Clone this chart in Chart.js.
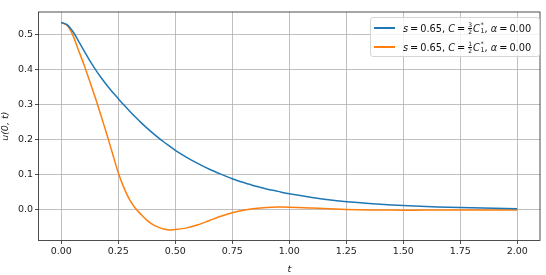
<!DOCTYPE html>
<html>
<head>
<meta charset="utf-8">
<script src="https://cdn.jsdelivr.net/npm/chart.js@4"></script>
<style>
  body { margin: 0; background: #fff; }
  #wrap { position: relative; width: 546px; height: 275px; }
  #legend {
    position: absolute; left: 370px; top: 17px; width: 170px; height: 40px;
    border: 1px solid #d5d5d5; border-radius: 3px; background: rgba(255,255,255,0.8);
    font-family: "DejaVu Sans", sans-serif; font-size: 9.8px; color: #111;
    box-sizing: border-box;
  }
  .row { position: absolute; left: 0; height: 16px; display: flex; align-items: center; white-space: nowrap; }
  .swatch { display: inline-block; width: 21px; height: 1.5px; margin-left: 3px; margin-right: 8px; }
  .frac { display: inline-flex; flex-direction: column; font-size: 6px; line-height: 6px; vertical-align: middle; margin: 0 1px; text-align: center; }
  .frac span:first-child { border-bottom: 0.6px solid #111; }
  .ss { display: inline-flex; flex-direction: column; font-size: 6.5px; line-height: 6px; vertical-align: middle; margin-left: 0.5px; }
</style>
</head>
<body>
<div id="wrap">
  <canvas id="grafico" width="546" height="275"></canvas>
  <div id="legend"></div>
</div>
<script>
// valores
const tValues = [0, 0.025, 0.05, 0.075, 0.1, 0.125, 0.15, 0.175, 0.2, 0.225, 0.25, 0.275, 0.3, 0.325, 0.35, 0.375, 0.4, 0.425, 0.45, 0.475, 0.5,
  0.55, 0.6, 0.65, 0.7, 0.75, 0.8, 0.85, 0.9, 0.95, 1.0, 1.1, 1.2, 1.3, 1.4, 1.5, 1.6, 1.7, 1.8, 1.9, 2.0];
const uTresMedios = [0.534, 0.528, 0.509, 0.482, 0.453, 0.4255, 0.400, 0.3767, 0.3553, 0.3355, 0.3171, 0.2988, 0.2814, 0.2648, 0.2489, 0.2339, 0.2197, 0.2063, 0.1937, 0.1818, 0.170,
  0.150, 0.132, 0.116, 0.102, 0.089, 0.078, 0.068, 0.060, 0.053, 0.046, 0.0355, 0.027, 0.021, 0.0162, 0.0125, 0.0098, 0.0078, 0.0060, 0.0047, 0.0037];
const uUnMedio = [0.534, 0.526, 0.499, 0.456, 0.413, 0.366, 0.318, 0.267, 0.215, 0.160, 0.106, 0.063, 0.029, 0.005, -0.013, -0.029, -0.041, -0.049, -0.054, -0.057, -0.056,
  -0.051, -0.042, -0.030, -0.018, -0.008, -0.001, 0.004, 0.007, 0.0082, 0.008, 0.0055, 0.0025, 0.0008, -0.0002, -0.0005, -0.0004, -0.0002, -0.0001, 0, 0];
const xTicks = [0, 0.25, 0.5, 0.75, 1.0, 1.25, 1.5, 1.75, 2.0];
const yTicks = [0, 0.1, 0.2, 0.3, 0.4, 0.5];
const etiquetas = [
  '<i>s</i>&thinsp;=&thinsp;0.65, <i>C</i>&thinsp;=&thinsp;<span class="frac"><span>3</span><span>2</span></span><i>C</i><span class="ss"><span>*</span><span>1</span></span>, <i>α</i>&thinsp;=&thinsp;0.00',
  '<i>s</i>&thinsp;=&thinsp;0.65, <i>C</i>&thinsp;=&thinsp;<span class="frac"><span>1</span><span>2</span></span><i>C</i><span class="ss"><span>*</span><span>1</span></span>, <i>α</i>&thinsp;=&thinsp;0.00'
];
const colores = ['#1f77b4', '#ff7f0e'];

const fuente = { family: 'DejaVu Sans', size: 9.5 };

// marco negro alrededor del area
const marco = {
  id: 'marco',
  afterDraw(chart) {
    const a = chart.chartArea, ctx = chart.ctx;
    ctx.save();
    ctx.strokeStyle = '#222';
    ctx.lineWidth = 0.8;
    ctx.strokeRect(a.left, a.top, a.right - a.left, a.bottom - a.top);
    ctx.restore();
  }
};

const series = [uTresMedios, uUnMedio];
new Chart(document.getElementById('grafico'), {
  type: 'line',
  data: {
    datasets: series.map((s, i) => ({
      label: 'serie' + i,
      data: tValues.map((t, j) => ({ x: t, y: s[j] })),
      borderColor: colores[i],
      borderWidth: 1.5,
      pointRadius: 0,
      tension: 0.3,
      fill: false
    }))
  },
  options: {
    responsive: false,
    animation: false,
    layout: { padding: { top: 12, right: 6, left: 0, bottom: 0 } },
    plugins: { legend: { display: false }, tooltip: { enabled: false } },
    scales: {
      x: {
        type: 'linear', min: -0.1, max: 2.1,
        afterBuildTicks: (sc) => { sc.ticks = xTicks.map(v => ({ value: v })); },
        afterFit: (sc) => { sc.height = 34.5; },
        grid: { color: '#b0b0b0', lineWidth: 0.8, tickColor: '#222', tickLength: 3.5 },
        border: { display: false },
        ticks: { font: fuente, color: '#222', padding: 2, maxRotation: 0, callback: v => v.toFixed(2) },
        title: { display: true, text: 't', font: { family: 'DejaVu Sans', size: 9.5, style: 'italic' }, color: '#222', padding: { top: 6, bottom: 0 } }
      },
      y: {
        type: 'linear', min: -0.087, max: 0.564,
        afterBuildTicks: (sc) => { sc.ticks = yTicks.map(v => ({ value: v })); },
        afterFit: (sc) => { sc.width = 38.5; },
        grid: { color: '#b0b0b0', lineWidth: 0.8, tickColor: '#222', tickLength: 3.5 },
        border: { display: false },
        ticks: { font: fuente, color: '#222', padding: 2, callback: v => v.toFixed(1) },
        title: { display: true, text: 'u(0, t)', font: { family: 'DejaVu Sans', size: 9.5, style: 'italic' }, color: '#222', padding: { top: 0, bottom: 0 } }
      }
    }
  },
  plugins: [marco]
});

// leyenda
const leyenda = document.getElementById('legend');
etiquetas.forEach((txt, i) => {
  const fila = document.createElement('div');
  fila.className = 'row';
  fila.style.top = (2 + i * 19) + 'px';
  fila.innerHTML = '<span class="swatch" style="background:' + colores[i] + '"></span><span>' + txt + '</span>';
  leyenda.appendChild(fila);
});
</script>
</body>
</html>
